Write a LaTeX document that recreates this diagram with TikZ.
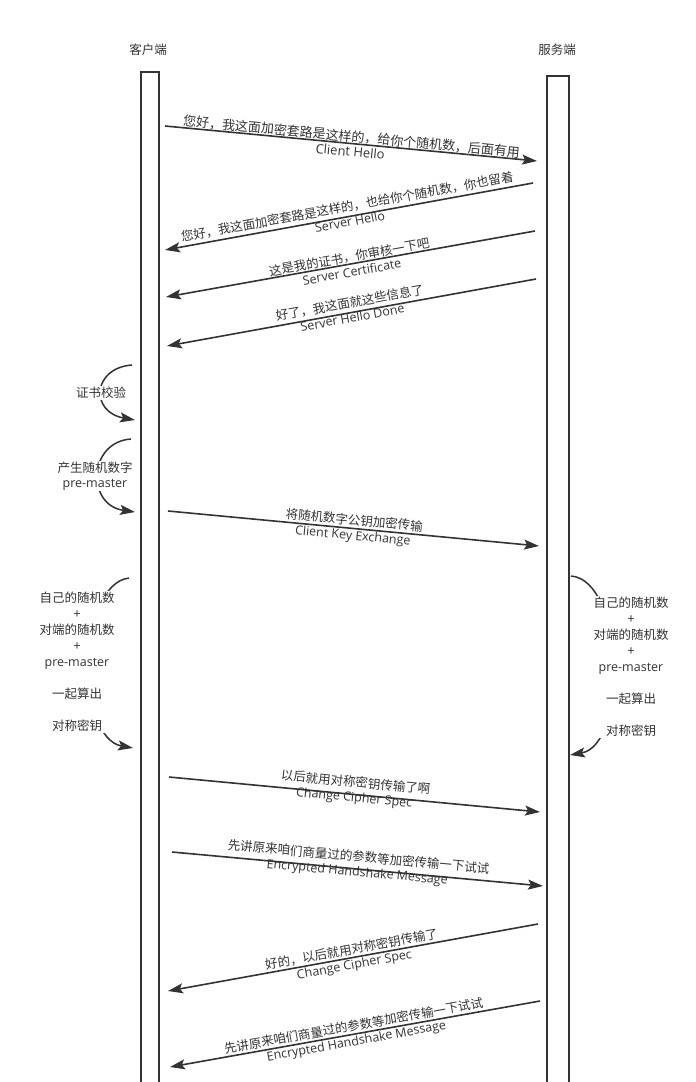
\documentclass[tikz,border=0pt]{standalone}
\usepackage{fontspec}
\setmainfont{Noto Sans CJK SC}
\newfontfamily\lat{Open Sans}
\usetikzlibrary{arrows.meta}
\definecolor{ink}{HTML}{333333}
\begin{document}
\begin{tikzpicture}[x=1pt,y=-1pt,
  life/.style={draw=ink,line width=1.7pt,fill=white,minimum height=1100pt,anchor=north,inner sep=0pt},
  msg/.style={draw=ink,line width=1.6pt,-{Stealth[length=15pt,width=10pt,inset=3pt]}},
  curv/.style={draw=ink,line width=1.5pt,-{Stealth[length=15pt,width=10pt,inset=3pt]}},
  lbl/.style={midway,sloped,align=center,text=ink,font=\fontsize{12.5}{15}\selectfont,inner sep=0pt},
  note/.style={align=center,text=ink,fill=white,font=\fontsize{12.5}{16}\selectfont,inner sep=1pt},
  title/.style={text=ink,font=\fontsize{12.5}{15}\selectfont}]
\useasboundingbox (0,0) rectangle (696,1082);
\clip (0,0) rectangle (696,1082);
% titles
\node[title] (tc) at (148,50) {客户端};
\node[title] (ts) at (557,50) {服务端};
% lifelines
\node[life,minimum width=18pt] (cl) at (150,71) {};
\node[life,minimum width=22pt] (sl) at (558,75) {};
% message coordinates
\coordinate (m1s) at (165,126); \coordinate (m1e) at (537,161);
\coordinate (m2s) at (533,183); \coordinate (m2e) at (165,250);
\coordinate (m3s) at (535,231); \coordinate (m3e) at (166,297);
\coordinate (m4s) at (536,279); \coordinate (m4e) at (167,346);
\coordinate (m5s) at (168,511); \coordinate (m5e) at (539,546);
\coordinate (m6s) at (169,777); \coordinate (m6e) at (540,812);
\coordinate (m7s) at (172,852); \coordinate (m7e) at (543,886);
\coordinate (m8s) at (538,924); \coordinate (m8e) at (168,991);
\coordinate (m9s) at (540,1001); \coordinate (m9e) at (170,1067);
\draw[msg] (m1s) -- (m1e) node[lbl,font=\fontsize{13}{15}\selectfont] (l1) {您好，我这面加密套路是这样的，给你个随机数，后面有用\\{\lat Client Hello}};
\draw[msg] (m2s) -- (m2e) node[lbl,yshift=3pt] (l2) {您好，我这面加密套路是这样的，也给你个随机数，你也留着\\{\lat Server Hello}};
\draw[msg] (m3s) -- (m3e) node[lbl] (l3) {这是我的证书，你审核一下吧\\{\lat Server Certificate}};
\draw[msg] (m4s) -- (m4e) node[lbl,yshift=3pt] (l4) {好了，我这面就这些信息了\\{\lat Server Hello Done}};
\draw[msg] (m5s) -- (m5e) node[lbl] (l5) {将随机数字公钥加密传输\\{\lat Client Key Exchange}};
\draw[msg] (m6s) -- (m6e) node[lbl,yshift=4pt] (l6) {以后就用对称密钥传输了啊\\{\lat Change Cipher Spec}};
\draw[msg] (m7s) -- (m7e) node[lbl,yshift=4pt] (l7) {先讲原来咱们商量过的参数等加密传输一下试试\\{\lat Encrypted Handshake Message}};
\draw[msg] (m8s) -- (m8e) node[lbl] (l8) {好的，以后就用对称密钥传输了\\{\lat Change Cipher Spec}};
\draw[msg] (m9s) -- (m9e) node[lbl] (l9) {先讲原来咱们商量过的参数等加密传输一下试试\\{\lat Encrypted Handshake Message}};
% self curves
\coordinate (c1s) at (132,365); \coordinate (c1e) at (135,420);
\draw[curv] (c1s) .. controls (92,368) and (90,412) .. (c1e);
\node[note] (n1) at (101,393) {证书校验};
\coordinate (c2s) at (131,439); \coordinate (c2e) at (135,512);
\draw[curv] (c2s) .. controls (88,442) and (86,505) .. (c2e);
\node[note,font=\fontsize{12.5}{15}\selectfont] (n2) at (95,476) {产生随机数字\\{\lat pre-master}};
\coordinate (c3s) at (129,578); \coordinate (c3e) at (133,748);
\draw[curv] (c3s) .. controls (78,584) and (76,738) .. (c3e);
\node[note] (n3) at (77,662) {自己的随机数\\+\\对端的随机数\\+\\{\lat pre-master}\\[16pt]一起算出\\[16pt]对称密钥};
\coordinate (c4s) at (571,576); \coordinate (c4e) at (570,755);
\draw[curv] (c4s) .. controls (624,580) and (628,745) .. (c4e);
\node[note] (n4) at (631,667) {自己的随机数\\+\\对端的随机数\\+\\{\lat pre-master}\\[16pt]一起算出\\[16pt]对称密钥};
\end{tikzpicture}
\end{document}
